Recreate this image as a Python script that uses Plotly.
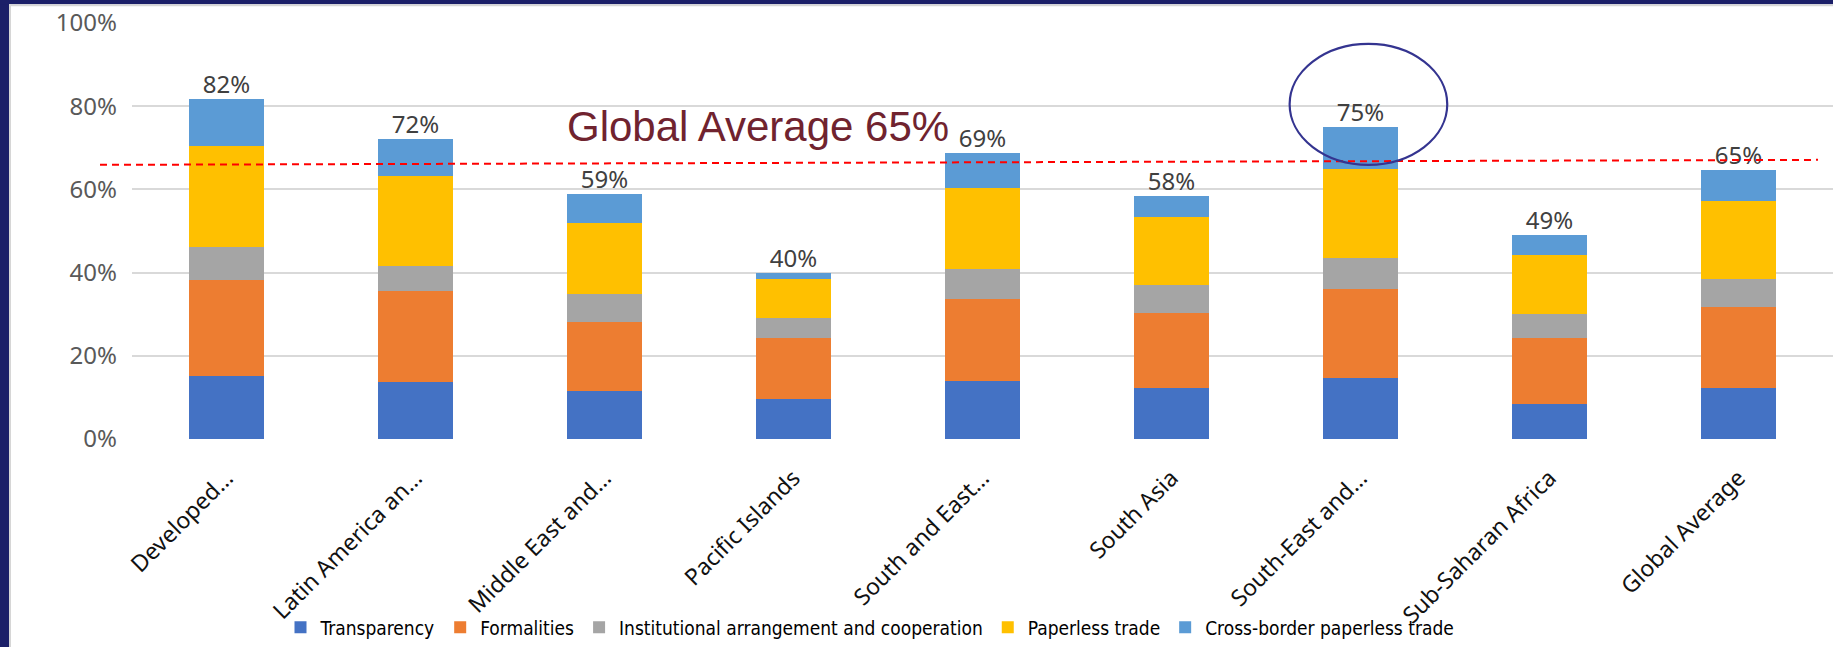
import plotly.graph_objects as go

categories = ["Developed…", "Latin America an…", "Middle East and…", "Pacific Islands",
              "South and East…", "South Asia", "South-East and…", "Sub-Saharan Africa",
              "Global Average"]
series_names = ["Transparency", "Formalities", "Institutional arrangement and cooperation",
                "Paperless trade", "Cross-border paperless trade"]
transparency = [0.152, 0.136, 0.116, 0.097, 0.140, 0.123, 0.147, 0.085, 0.123]
formalities = [0.230, 0.220, 0.166, 0.147, 0.197, 0.180, 0.213, 0.159, 0.195]
institutional = [0.080, 0.059, 0.066, 0.048, 0.071, 0.067, 0.074, 0.057, 0.066]
paperless = [0.242, 0.218, 0.171, 0.092, 0.196, 0.163, 0.215, 0.142, 0.187]
cross_border = [0.114, 0.087, 0.069, 0.016, 0.083, 0.051, 0.102, 0.048, 0.076]
colors = ["#4472C4", "#ED7D31", "#A5A5A5", "#FFC000", "#5B9BD5"]
global_avg_left = 0.659
global_avg_right = 0.671
avg_label = "Global Average 65%"
highlight_index = 6

series = [transparency, formalities, institutional, paperless, cross_border]
totals = [sum(v) for v in zip(*series)]

fig = go.Figure()
for name, vals, col in zip(series_names, series, colors):
    fig.add_trace(go.Bar(x=categories, y=vals, name=name, marker=dict(color=col, line=dict(width=0))))

fig.add_trace(go.Scatter(
    x=categories, y=totals, mode="text",
    text=[f"{round(t * 100)}%" for t in totals],
    textposition="top center",
    textfont=dict(size=24, color="#404040", family="Noto Sans"),
    showlegend=False, hoverinfo="skip"))

L, R, T, B = 132, 0, 23, 202
W, H = 1833, 647
pw = W - L - R
ph = H - T - B

def px_to_paper_x(px):
    return (px - L) / pw

def px_to_paper_y(py):
    return (H - B - py) / ph

navy = "#1b1f68"
shapes = [
    dict(type="rect", xref="paper", yref="paper",
         x0=px_to_paper_x(-20), x1=px_to_paper_x(9),
         y0=px_to_paper_y(H + 20), y1=px_to_paper_y(-20),
         fillcolor=navy, line=dict(width=0), layer="below"),
    dict(type="rect", xref="paper", yref="paper",
         x0=px_to_paper_x(-20), x1=px_to_paper_x(W + 20),
         y0=px_to_paper_y(4), y1=px_to_paper_y(-20),
         fillcolor=navy, line=dict(width=0), layer="below"),
    dict(type="line", xref="paper", yref="paper",
         x0=px_to_paper_x(10), x1=px_to_paper_x(10),
         y0=px_to_paper_y(H + 20), y1=px_to_paper_y(4),
         line=dict(color="#d6d6d6", width=2), layer="below"),
    dict(type="line", xref="paper", yref="paper",
         x0=px_to_paper_x(10), x1=px_to_paper_x(W + 20),
         y0=px_to_paper_y(5), y1=px_to_paper_y(5),
         line=dict(color="#d6d6d6", width=2), layer="below"),
    # global average dashed line (y axis spans paper 0..1, so values map directly)
    dict(type="line", xref="paper", yref="paper",
         x0=px_to_paper_x(100), x1=px_to_paper_x(1818),
         y0=global_avg_left, y1=global_avg_right,
         line=dict(color="#FF0000", width=2, dash="7px,5px")),
    dict(type="circle", xref="x", yref="y",
         x0=highlight_index - 0.375, x1=highlight_index + 0.459,
         y0=0.659, y1=0.950,
         line=dict(color="#343490", width=2.2)),
]

legend_font = "DejaVu Sans Condensed, Liberation Sans Narrow, Roboto, sans-serif"

fig.update_layout(
    width=W, height=H, autosize=False,
    margin=dict(l=L, r=R, t=T, b=B, pad=0),
    barmode="stack", bargap=0.6,
    paper_bgcolor="white", plot_bgcolor="rgba(0,0,0,0)",
    font=dict(family="Noto Sans", color="#404040"),
    shapes=shapes,
    showlegend=True,
    legend=dict(orientation="h", x=px_to_paper_x(870), xanchor="center",
                y=px_to_paper_y(636), yanchor="middle",
                font=dict(size=19, color="#000000", family=legend_font),
                bgcolor="rgba(0,0,0,0)", itemwidth=30, traceorder="normal"),
    annotations=[dict(text=avg_label, xref="paper", yref="paper",
                      x=px_to_paper_x(565), y=px_to_paper_y(128),
                      xanchor="left", yanchor="middle", showarrow=False,
                      font=dict(size=42, color="#70232F", family="Liberation Sans"))],
)
fig.update_yaxes(range=[0, 1], dtick=0.2, tickformat=".0%", showgrid=True,
                 gridcolor="#d9d9d9", gridwidth=1.5, zeroline=False,
                 tickfont=dict(size=24, color="#595959", family="Noto Sans"),
                 ticklabelstandoff=14, showline=False)
fig.update_xaxes(tickangle=-45, showgrid=False, showline=False, zeroline=False,
                 tickfont=dict(size=23, color="#111111", family="Noto Sans"),
                 ticklabelstandoff=20, range=[-0.5, 8.5])

fig.write_html("out.html", config={"displayModeBar": False},
               post_script=("document.documentElement.style.overflow='hidden';"
                            "document.documentElement.style.background='white';"
                            "document.body.style.margin='0';"
                            "document.body.style.overflow='hidden';"
                            "document.body.style.background='white';"))
